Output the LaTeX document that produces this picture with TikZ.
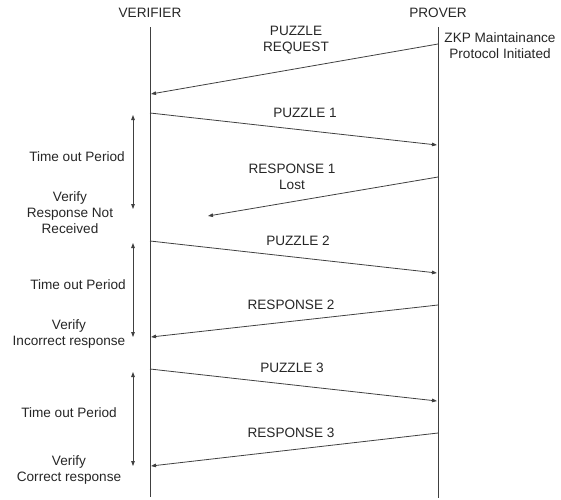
\documentclass[tikz,border=0pt]{standalone}
\usepackage{fontspec}
\setmainfont{Liberation Sans}
\usetikzlibrary{arrows.meta}
\begin{document}
\begin{tikzpicture}[x=1pt,y=-1pt,
  every node/.style={font=\fontsize{13.6}{16}\selectfont, text=black!85, inner sep=0pt, align=center},
  life/.style={draw=black!75, line width=0.8pt},
  msg/.style={draw=black!75, line width=0.8pt, -{Triangle[length=5pt,width=3.6pt]}},
  span/.style={draw=black!75, line width=0.8pt, {Triangle[length=5pt,width=3.6pt]}-{Triangle[length=5pt,width=3.6pt]}}]
\useasboundingbox (0,0) rectangle (561,499);

% lifeline heads
\node (ver) at (150,13) {VERIFIER};
\node (pro) at (438,13) {PROVER};
\coordinate (vtop) at (150,27);
\coordinate (vbot) at (150,497);
\coordinate (ptop) at (438,27);
\coordinate (pbot) at (438,498);
\draw[life] (vtop) -- (vbot);
\draw[life] (ptop) -- (pbot);

\node (init) at (500,46) {ZKP Maintainance\\Protocol Initiated};

% message end points
\coordinate (p0) at (438,44);  \coordinate (v0) at (151,94);
\coordinate (v1) at (150,113); \coordinate (p1) at (437,145);
\coordinate (p2) at (438,177); \coordinate (x2) at (208,216);
\coordinate (v3) at (150,241); \coordinate (p3) at (437,273);
\coordinate (p4) at (438,305); \coordinate (v4) at (151,337);
\coordinate (v5) at (150,369); \coordinate (p5) at (437,401);
\coordinate (p6) at (438,433); \coordinate (v6) at (151,466);

\draw[msg] (p0) -- (v0);
\draw[msg] (v1) -- (p1);
\draw[msg] (p2) -- (x2);
\draw[msg] (v3) -- (p3);
\draw[msg] (p4) -- (v4);
\draw[msg] (v5) -- (p5);
\draw[msg] (p6) -- (v6);

% message labels
\node (lreq) at (296,40) {PUZZLE\\REQUEST};
\node (lp1) at (305,113) {PUZZLE 1};
\node (lr1) at (292,177) {RESPONSE 1\\Lost};
\node (lp2) at (298,241) {PUZZLE 2};
\node (lr2) at (291,305) {RESPONSE 2};
\node (lp3) at (292,368) {PUZZLE 3};
\node (lr3) at (291,433) {RESPONSE 3};

% time-out spans on the verifier side
\coordinate (t1a) at (133,115); \coordinate (t1b) at (133,209);
\coordinate (t2a) at (133,243); \coordinate (t2b) at (133,337);
\coordinate (t3a) at (133,372); \coordinate (t3b) at (133,466);
\draw[span] (t1a) -- (t1b);
\draw[span] (t2a) -- (t2b);
\draw[span] (t3a) -- (t3b);

\node (to1) at (77,157) {Time out Period};
\node (vf1) at (70,213) {Verify\\Response Not\\Received};
\node (to2) at (78,285) {Time out Period};
\node (vf2) at (69,334) {Verify\\Incorrect response};
\node (to3) at (69,413) {Time out Period};
\node (vf3) at (69,470) {Verify\\Correct response};
\end{tikzpicture}
\end{document}
